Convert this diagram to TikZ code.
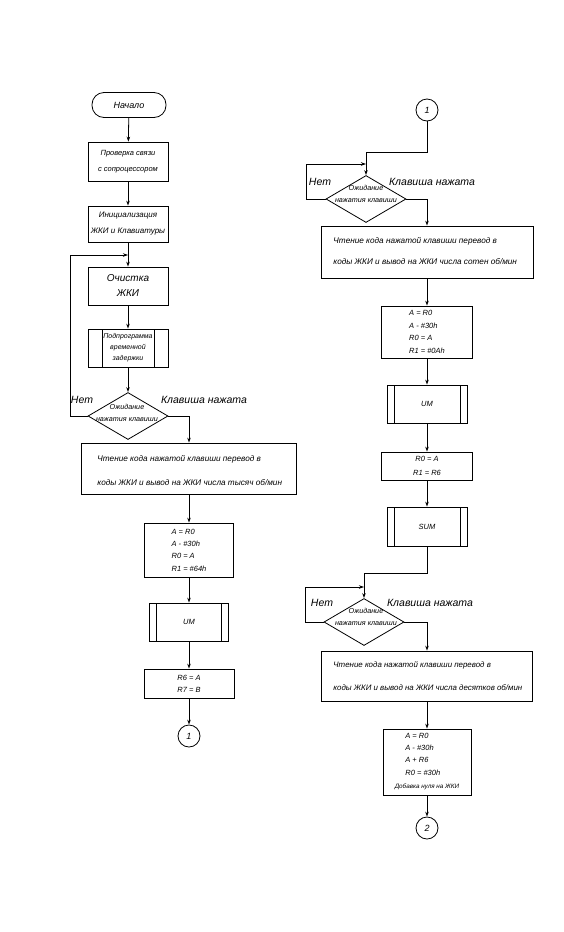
\documentclass[tikz,border=0pt]{standalone}
\usepackage{fontspec}
\setmainfont{Liberation Sans}
\usetikzlibrary{shapes.geometric,arrows.meta}
\begin{document}
\begin{tikzpicture}[x=1pt,y=-1pt,line width=0.8pt,
  arr/.style={-{Stealth[length=5pt,width=3.5pt]}},
  blk/.style={draw,rectangle,inner sep=0pt,align=center},
  subr/.style={blk,path picture={
     \draw ([xshift=#1]path picture bounding box.north west) -- ([xshift=#1]path picture bounding box.south west);
     \draw ([xshift=-#1]path picture bounding box.north east) -- ([xshift=-#1]path picture bounding box.south east);}},
  subr/.default=7pt,
  term/.style={draw,rounded corners=12pt,minimum width=74pt,minimum height=25pt,inner sep=0pt,font=\fontsize{9}{11}\selectfont\itshape},
  dia/.style={draw,diamond,inner sep=0pt,minimum width=80pt,minimum height=47pt},
  dtxt/.style={inner sep=0pt,align=center,font=\fontsize{7.2}{12}\selectfont\itshape},
  lbl/.style={inner sep=0pt,font=\fontsize{10.5}{12}\selectfont\itshape},
  btxt/.style={inner sep=0pt,align=left,anchor=west},
  calc/.style={blk,align=left,font=\fontsize{7.5}{12.3}\selectfont\itshape},
  circ/.style={draw,circle,minimum size=22pt,inner sep=0pt,font=\fontsize{9}{11}\selectfont\itshape}
]
\useasboundingbox (0,0) rectangle (564,932);

% ---------------- left column ----------------
\node[term] (start) at (129,105) {Начало};
\node[blk,minimum width=80pt,minimum height=39pt,font=\fontsize{7.5}{16}\selectfont\itshape] (chk) at (128,161.5) {Проверка связи\\с сопроцессором};
\node[blk,minimum width=80pt,minimum height=36pt,font=\fontsize{8}{16}\selectfont\itshape] (init) at (128,224) {Инициализация\\ЖКИ и Клавиатуры};
\node[blk,minimum width=80pt,minimum height=38pt,font=\fontsize{10}{15}\selectfont\itshape] (clr) at (128,286) {Очистка\\ЖКИ};
\node[subr=14pt,minimum width=80pt,minimum height=38pt,font=\fontsize{7}{11}\selectfont\itshape] (delay) at (128,348) {Подпрограмма\\временной\\задержки};
\node[dia] (d1) at (128,416) {};
\node[dtxt] (d1t) at (127,413) {Ожидание\\нажатия клавиши};
\node[lbl] (no1) at (82,400) {Нет};
\node[lbl] (yes1) at (204,400) {Клавиша нажата};
\node[draw,minimum width=215pt,minimum height=51pt,inner sep=0pt] (rd1) at (189,468.5) {};
\node[btxt,font=\fontsize{8.2}{24}\selectfont\itshape] (rd1t) at (97,471) {Чтение кода нажатой клавиши перевод в\\коды ЖКИ и вывод на ЖКИ числа тысяч об/мин};
\node[calc,minimum width=89pt,minimum height=54pt] (k1) at (189,550) {A = R0\\A - \#30h\\R0 = A\\R1 = \#64h};
\node[subr=7pt,minimum width=79pt,minimum height=38pt,font=\fontsize{7.5}{10}\selectfont\itshape] (um1) at (189,622) {UM};
\node[blk,minimum width=90pt,minimum height=29pt,font=\fontsize{7.5}{12}\selectfont\itshape] (r6) at (189,683.5) {R6 = A\\R7 = B};
\node[circ] (c1) at (189,736) {1};

\coordinate (lp1) at (70,255);
\coordinate (j1) at (128,255);
\draw[arr] (start) -- (chk);
\draw[arr] (chk) -- (init);
\draw[arr] (init) -- (clr);
\draw[arr] (clr) -- (delay);
\draw[arr] (delay) -- (d1);
\draw[arr] (d1.west) -| (lp1) -- (j1);
\draw[arr] (d1.east) -| (rd1.north);
\draw[arr] (rd1) -- (k1);
\draw[arr] (k1) -- (um1);
\draw[arr] (um1) -- (r6);
\draw[arr] (r6) -- (c1);

% ---------------- right column ----------------
\node[circ] (rc1) at (427,110) {1};
\node[dia] (d2) at (366,199) {};
\node[dtxt] (d2t) at (366,194) {Ожидание\\нажатия клавиши};
\node[lbl] (no2) at (320,182) {Нет};
\node[lbl] (yes2) at (432,182) {Клавиша нажата};
\node[draw,minimum width=212pt,minimum height=52pt,inner sep=0pt] (rr1) at (427,252) {};
\node[btxt,font=\fontsize{8.2}{21}\selectfont\itshape] (rr1t) at (333,251.5) {Чтение кода нажатой клавиши перевод в\\коды ЖКИ и вывод на ЖКИ числа сотен об/мин};
\node[calc,minimum width=91pt,minimum height=52pt,font=\fontsize{7.5}{12.7}\selectfont\itshape] (rk1) at (427,332) {A = R0\\A - \#30h\\R0 = A\\R1 = \#0Ah};
\node[subr=7pt,minimum width=80pt,minimum height=38pt,font=\fontsize{7.5}{10}\selectfont\itshape] (ru1) at (427,404) {UM};
\node[blk,minimum width=91pt,minimum height=28pt,font=\fontsize{7.5}{14}\selectfont\itshape] (rm1) at (427,466) {R0 = A\\R1 = R6};
\node[subr=7pt,minimum width=80pt,minimum height=39pt,font=\fontsize{7.5}{10}\selectfont\itshape] (rs1) at (427,526.5) {SUM};
\node[dia] (d3) at (364,622) {};
\node[dtxt] (d3t) at (366,617) {Ожидание\\нажатия клавиши};
\node[lbl] (no3) at (322,603) {Нет};
\node[lbl] (yes3) at (430,603) {Клавиша нажата};
\node[draw,minimum width=211pt,minimum height=50pt,inner sep=0pt] (rr2) at (427,676) {};
\node[btxt,font=\fontsize{7.9}{23}\selectfont\itshape] (rr2t) at (333,676.5) {Чтение кода нажатой клавиши перевод в\\коды ЖКИ и вывод на ЖКИ числа десятков об/мин};
\node[draw,minimum width=88pt,minimum height=66pt,inner sep=0pt] (rk2) at (427,762) {};
\node[btxt,font=\fontsize{7.5}{12.3}\selectfont\itshape] (rk2t) at (405,754) {A = R0\\A - \#30h\\A + R6\\R0 = \#30h};
\node[inner sep=0pt,font=\fontsize{6.3}{8}\selectfont\itshape] (rk2n) at (427,787) {Добавка нуля на ЖКИ};
\node[circ] (rc2) at (427,828) {2};

\coordinate (t2) at (366,152);
\coordinate (lp2) at (306,164);
\coordinate (j2) at (366,164);
\coordinate (t3) at (364,573);
\coordinate (lp3) at (305,587);
\coordinate (j3) at (364,587);
\draw[arr] (rc1.south) |- (t2) -- (d2.north);
\draw[arr] (d2.west) -| (lp2) -- (j2);
\draw[arr] (d2.east) -| (rr1.north);
\draw[arr] (rr1) -- (rk1);
\draw[arr] (rk1) -- (ru1);
\draw[arr] (ru1) -- (rm1);
\draw[arr] (rm1) -- (rs1);
\draw[arr] (rs1.south) |- (t3) -- (d3.north);
\draw[arr] (d3.west) -| (lp3) -- (j3);
\draw[arr] (d3.east) -| (rr2.north);
\draw[arr] (rr2) -- (rk2);
\draw[arr] (rk2) -- (rc2);
\end{tikzpicture}
\end{document}
